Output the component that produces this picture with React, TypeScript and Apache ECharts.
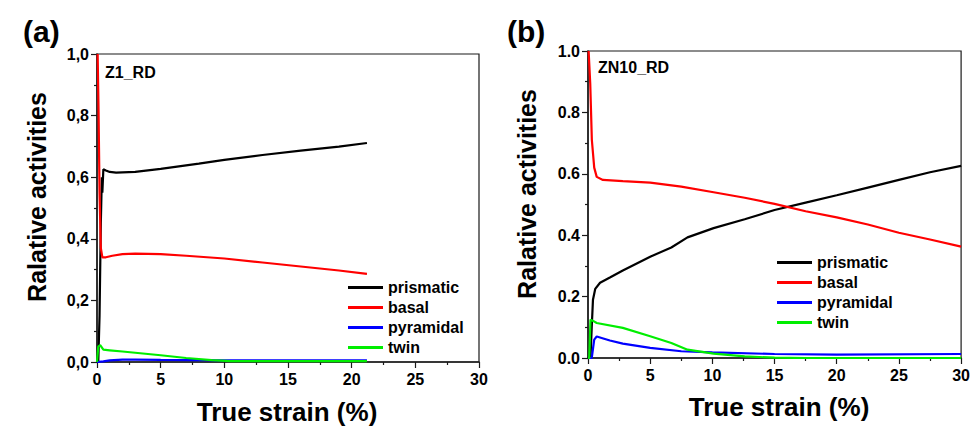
import React, { useEffect, useRef } from "react";
import * as echarts from "echarts";

// ---------- Panel (a): Z1_RD ----------
const aPrismaticX = [0.1, 0.2, 0.3, 0.38, 0.42, 0.5, 0.7, 1, 1.5, 3, 5, 8, 10, 13, 16, 19, 21.2];
const aPrismaticY = [0.0, 0.15, 0.45, 0.6, 0.55, 0.626, 0.622, 0.617, 0.615, 0.617, 0.627, 0.644, 0.656, 0.672, 0.686, 0.699, 0.711];
const aBasalX = [0.05, 0.12, 0.2, 0.3, 0.42, 0.7, 1.2, 2, 3, 5, 7, 10, 13, 16, 19, 21.2];
const aBasalY = [1.0, 0.82, 0.55, 0.37, 0.34, 0.34, 0.345, 0.35, 0.352, 0.35, 0.345, 0.336, 0.323, 0.31, 0.297, 0.286];
const aPyramidalX = [0, 0.5, 1, 2, 3, 5, 10, 15, 21.2];
const aPyramidalY = [0, 0.002, 0.005, 0.008, 0.008, 0.007, 0.005, 0.005, 0.005];
const aTwinX = [0, 0.1, 0.25, 0.5, 1, 2, 3, 5, 7, 9, 10.5, 12, 15, 21.2];
const aTwinY = [0, 0.05, 0.055, 0.04, 0.038, 0.034, 0.03, 0.022, 0.013, 0.006, 0.003, 0.003, 0.003, 0.003];

// ---------- Panel (b): ZN10_RD ----------
const bPrismaticX = [0, 0.2, 0.3, 0.4, 0.58, 0.97, 1.76, 2.8, 5, 6.7, 8, 10.1, 12.6, 15, 17.5, 20, 22.5, 25, 27.5, 30];
const bPrismaticY = [0, 0, 0.1, 0.19, 0.225, 0.245, 0.262, 0.285, 0.33, 0.36, 0.393, 0.423, 0.452, 0.482, 0.506, 0.53, 0.555, 0.58, 0.605, 0.626];
const bBasalX = [0.05, 0.18, 0.31, 0.5, 0.7, 1.2, 2.8, 5, 7.5, 10.1, 12.6, 15, 17.5, 20, 22.5, 25, 27.5, 30];
const bBasalY = [1.0, 0.894, 0.71, 0.62, 0.59, 0.58, 0.576, 0.571, 0.558, 0.54, 0.522, 0.502, 0.478, 0.458, 0.435, 0.408, 0.386, 0.363];
const bPyramidalX = [0, 0.3, 0.5, 0.7, 1.76, 2.8, 5, 7.5, 10, 15, 20, 30];
const bPyramidalY = [0, 0.0, 0.06, 0.07, 0.057, 0.047, 0.033, 0.022, 0.018, 0.013, 0.011, 0.013];
const bTwinX = [0, 0.1, 0.2, 0.45, 0.7, 2.8, 5, 6.7, 8, 10.1, 12.6, 15, 17.5, 30];
const bTwinY = [0, 0.0, 0.125, 0.12, 0.114, 0.098, 0.071, 0.049, 0.027, 0.014, 0.005, 0.001, 0, 0];

const seriesNames = ["prismatic", "basal", "pyramidal", "twin"];
const seriesColors = ["#000000", "#ff0000", "#0000ff", "#00ee00"];
const xTicks = { min: 0, max: 30, interval: 5 };
const yTicks = { min: 0, max: 1, interval: 0.2 };

const zip = (xs: number[], ys: number[]) => xs.map((x, i) => [x, ys[i]]);

const FONT = "'Liberation Sans', Arial, sans-serif";
const LEGEND_LINE = "path://M0,0 M0,5.5 L35,5.5 L35,8.5 L0,8.5 Z M35,14";

export default function App() {
  const ref = useRef<HTMLDivElement>(null);

  useEffect(() => {
    document.body.style.margin = "0";
    if (!ref.current) return;
    const chart = echarts.init(ref.current, undefined, { renderer: "svg" });

    const panelA = [zip(aPrismaticX, aPrismaticY), zip(aBasalX, aBasalY), zip(aPyramidalX, aPyramidalY), zip(aTwinX, aTwinY)];
    const panelB = [zip(bPrismaticX, bPrismaticY), zip(bBasalX, bBasalY), zip(bPyramidalX, bPyramidalY), zip(bTwinX, bTwinY)];

    const axisCommon = {
      splitLine: { show: false },
      axisLine: { show: true, onZero: false, lineStyle: { color: "#1a1a1a", width: 1.5 } },
      axisTick: { show: true, inside: false, length: 6, lineStyle: { color: "#1a1a1a", width: 1.2 } },
      minorTick: { show: true, splitNumber: 2, length: 3, lineStyle: { color: "#1a1a1a", width: 1.2 } },
    };
    const labelStyle = { color: "#000", fontSize: 16, fontWeight: "bold" as const, fontFamily: FONT };

    const makeX = (gridIndex: number) => ({
      type: "value" as const,
      gridIndex,
      ...xTicks,
      ...axisCommon,
      axisLabel: { ...labelStyle, margin: 9, formatter: (v: number) => String(v) },
    });
    const makeY = (gridIndex: number, comma: boolean) => ({
      type: "value" as const,
      gridIndex,
      ...yTicks,
      ...axisCommon,
      axisLabel: {
        ...labelStyle,
        margin: 8,
        formatter: (v: number) => (comma ? v.toFixed(1).replace(".", ",") : v.toFixed(1)),
      },
    });

    const makeSeries = (data: number[][][], idx: number) =>
      data.map((d, i) => ({
        type: "line" as const,
        name: seriesNames[i],
        xAxisIndex: idx,
        yAxisIndex: idx,
        data: d,
        symbol: "none",
        showSymbol: false,
        lineStyle: { color: seriesColors[i], width: 2.2 },
        itemStyle: { color: seriesColors[i] },
        z: 2 + i,
      }));

    const legendCommon = {
      orient: "vertical" as const,
      icon: LEGEND_LINE,
      itemWidth: 35,
      itemHeight: 14,
      itemGap: 4,
      padding: 0,
      data: seriesNames,
      selectedMode: false,
      textStyle: { color: "#000", fontSize: 16, fontWeight: "bold" as const, fontFamily: FONT },
    };

    const textStyle = (size: number) => ({ fill: "#000", font: `bold ${size}px ${FONT}` });

    chart.setOption({
      animation: false,
      backgroundColor: "#ffffff",
      grid: [
        { left: 97, top: 54, width: 382, height: 308, show: true, borderColor: "#1a1a1a", borderWidth: 1.2, backgroundColor: "transparent" },
        { left: 588, top: 51, width: 381, height: 307, show: true, borderColor: "#1a1a1a", borderWidth: 1.2, backgroundColor: "transparent" },
      ],
      xAxis: [makeX(0), makeX(1)],
      yAxis: [makeY(0, true), makeY(1, false)],
      legend: [
        { ...legendCommon, left: 348, top: 279.5 },
        { ...legendCommon, left: 777, top: 254.5 },
      ],
      series: [...makeSeries(panelA, 0), ...makeSeries(panelB, 1)],
      graphic: [
        { type: "text", left: 23, top: 16, style: { text: "(a)", ...textStyle(30) } },
        { type: "text", left: 507, top: 16, style: { text: "(b)", ...textStyle(30) } },
        { type: "text", left: 105, top: 64, style: { text: "Z1_RD", ...textStyle(16) } },
        { type: "text", left: 598, top: 59, style: { text: "ZN10_RD", ...textStyle(16) } },
        {
          type: "text", x: 37, y: 197, rotation: Math.PI / 2,
          style: { text: "Ralative activities", ...textStyle(25), textAlign: "center", textVerticalAlign: "middle" },
        },
        {
          type: "text", x: 527, y: 194, rotation: Math.PI / 2,
          style: { text: "Ralative activities", ...textStyle(25), textAlign: "center", textVerticalAlign: "middle" },
        },
        {
          type: "text", x: 287, y: 412,
          style: { text: "True strain (%)", ...textStyle(26), textAlign: "center", textVerticalAlign: "middle" },
        },
        {
          type: "text", x: 779, y: 407,
          style: { text: "True strain (%)", ...textStyle(26), textAlign: "center", textVerticalAlign: "middle" },
        },
      ],
    });

    return () => chart.dispose();
  }, []);

  return <div ref={ref} style={{ width: 973, height: 428 }} />;
}
